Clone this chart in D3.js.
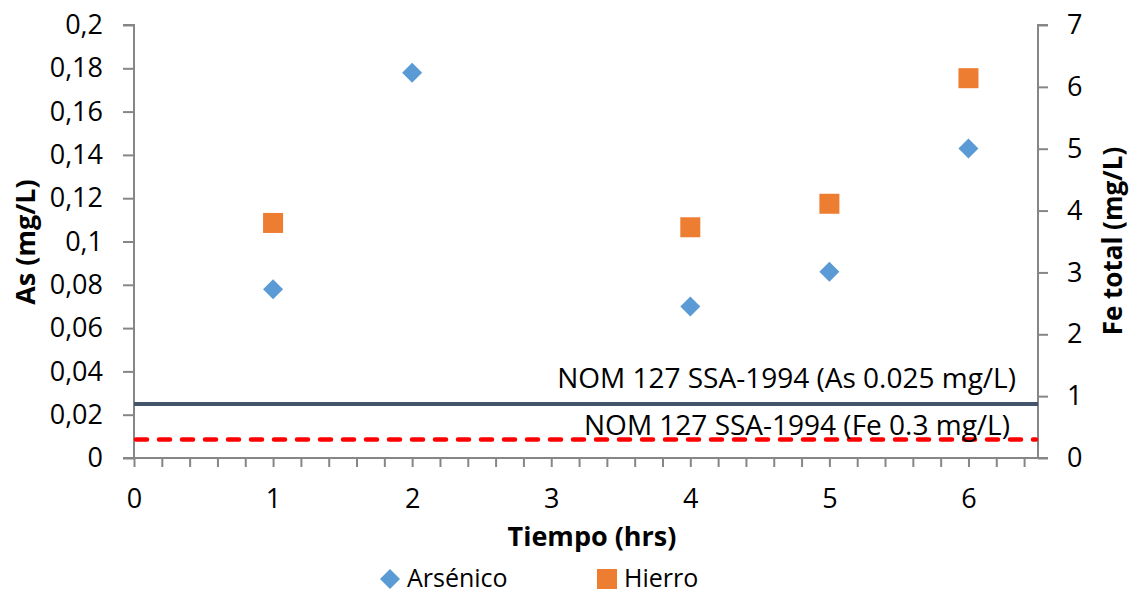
<!DOCTYPE html>
<html>
<head>
<meta charset="utf-8">
<script src="https://cdn.jsdelivr.net/npm/d3@7"></script>
<style>
  body { margin: 0; background: #fff; }
  text { font-family: "Open Sans", "Noto Sans", sans-serif; fill: #000; }
</style>
</head>
<body>
<svg id="chart" width="1129" height="595"></svg>
<script>
// datos
var tiempoAs = [1, 2, 4, 5, 6];
var arsenico = [0.078, 0.178, 0.070, 0.086, 0.143];
var tiempoFe = [1, 4, 5, 6];
var hierro = [3.80, 3.73, 4.11, 6.14];
var limiteAs = 0.025;
var limiteFe = 0.3;
var ticksAs = [0, 0.02, 0.04, 0.06, 0.08, 0.1, 0.12, 0.14, 0.16, 0.18, 0.2];
var ticksFe = [0, 1, 2, 3, 4, 5, 6, 7];
var ticksX = [0, 1, 2, 3, 4, 5, 6];
var ticksXmenor = d3.range(0, 33).map(i => i / 5);

var svg = d3.select("#chart");
var mLeft = 134, mRight = 1038, mTop = 25, mBottom = 458;

var x = d3.scaleLinear().domain([0, 6.5]).range([mLeft, mRight]);
var yAs = d3.scaleLinear().domain([0, 0.2]).range([mBottom, mTop]);
var yFe = d3.scaleLinear().domain([0, 7]).range([mBottom, mTop]);

var gris = "#868686";
var fmt = d => String(d).replace(".", ",");

// eje izquierdo
var gL = svg.append("g").attr("transform", `translate(${mLeft},0)`)
  .call(d3.axisLeft(yAs).tickValues(ticksAs).tickFormat(fmt).tickSize(11).tickPadding(20));
// eje derecho
var gR = svg.append("g").attr("transform", `translate(${mRight},0)`)
  .call(d3.axisRight(yFe).tickValues(ticksFe).tickFormat(d3.format("d")).tickSize(10).tickPadding(19));
// eje x: marcas menores y etiquetas
var gX = svg.append("g").attr("transform", `translate(0,${mBottom})`)
  .call(d3.axisBottom(x).tickValues(ticksXmenor).tickFormat("").tickSize(9).tickSizeOuter(0));
var gXl = svg.append("g").attr("transform", `translate(0,${mBottom})`)
  .call(d3.axisBottom(x).tickValues(ticksX).tickFormat(d3.format("d")).tickSize(0).tickPadding(31));
gXl.select(".domain").remove();

[gL, gR, gX, gXl].forEach(g => {
  g.selectAll(".domain").attr("stroke", gris).attr("stroke-width", 2);
  g.selectAll(".tick line").attr("stroke", gris).attr("stroke-width", 2);
  g.selectAll("text").attr("font-size", 27).attr("fill", "#000")
    .attr("font-family", "'Open Sans', sans-serif");
});
gL.select(".domain").attr("d", `M-11,${mTop}H0V${mBottom}H-11`);
gR.select(".domain").attr("d", `M10,${mTop}H0V${mBottom}H10`);
gX.select(".domain").attr("d", `M${mLeft},0H${mRight}`);

// lineas de norma
svg.append("line").attr("x1", mLeft).attr("x2", mRight)
  .attr("y1", yAs(limiteAs)).attr("y2", yAs(limiteAs))
  .attr("stroke", "#44546A").attr("stroke-width", 4);
svg.append("line").attr("x1", mLeft + 2).attr("x2", mRight - 2)
  .attr("y1", yFe(limiteFe)).attr("y2", yFe(limiteFe))
  .attr("stroke", "#FF0000").attr("stroke-width", 4.5)
  .attr("stroke-dasharray", "11,12").attr("stroke-linecap", "round");

svg.append("text").attr("x", 1016).attr("y", yAs(limiteAs) - 16)
  .attr("text-anchor", "end").attr("font-size", 28)
  .text("NOM 127 SSA-1994 (As 0.025 mg/L)");
svg.append("text").attr("x", 1010).attr("y", yFe(limiteFe) - 4)
  .attr("text-anchor", "end").attr("font-size", 28)
  .text("NOM 127 SSA-1994 (Fe 0.3 mg/L)");

// puntos
var diamante = d3.symbol().type(d3.symbolSquare).size(200);
svg.selectAll(".as").data(tiempoAs).enter().append("path")
  .attr("class", "as")
  .attr("d", diamante)
  .attr("transform", (d, i) => `translate(${x(d)},${yAs(arsenico[i])}) rotate(45)`)
  .attr("fill", "#5B9BD5");

svg.selectAll(".fe").data(tiempoFe).enter().append("rect")
  .attr("class", "fe")
  .attr("x", d => x(d) - 10)
  .attr("y", (d, i) => yFe(hierro[i]) - 10)
  .attr("width", 20).attr("height", 20)
  .attr("fill", "#ED7D31");

// titulos de ejes
svg.append("text").attr("transform", `translate(35,242) rotate(-90)`)
  .attr("text-anchor", "middle").attr("font-size", 27).attr("font-weight", "bold")
  .text("As (mg/L)");
svg.append("text").attr("transform", `translate(1122,241) rotate(-90)`)
  .attr("text-anchor", "middle").attr("font-size", 26).attr("font-weight", "bold")
  .text("Fe total (mg/L)");
svg.append("text").attr("x", 592).attr("y", 546)
  .attr("text-anchor", "middle").attr("font-size", 27).attr("font-weight", "bold")
  .text("Tiempo (hrs)");

// leyenda
svg.append("path").attr("d", diamante)
  .attr("transform", "translate(390,579) rotate(45)").attr("fill", "#5B9BD5");
svg.append("text").attr("x", 407).attr("y", 587).attr("font-size", 25).text("Arsénico");
svg.append("rect").attr("x", 597).attr("y", 569).attr("width", 20).attr("height", 20)
  .attr("fill", "#ED7D31");
svg.append("text").attr("x", 624).attr("y", 587).attr("font-size", 25).text("Hierro");
</script>
</body>
</html>
